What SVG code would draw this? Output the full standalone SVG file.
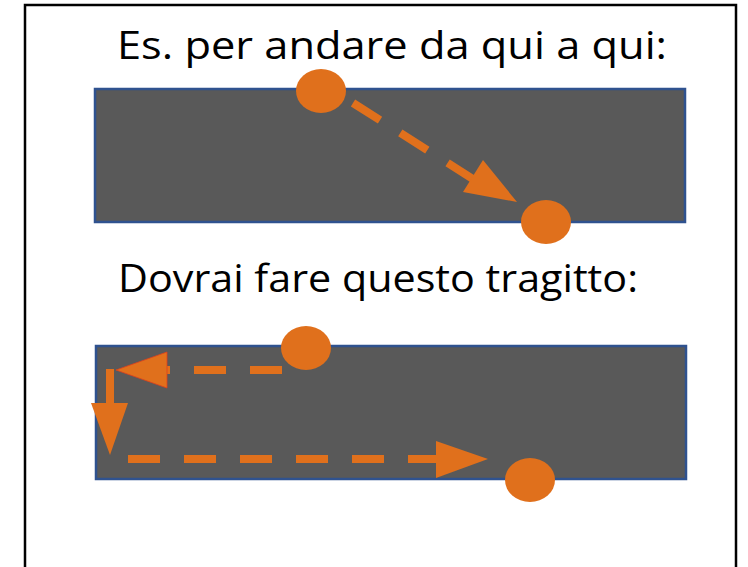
<svg xmlns="http://www.w3.org/2000/svg" width="748" height="567" viewBox="0 0 748 567">
<defs>
<style>
.t{font-family:"Open Sans","Liberation Sans",sans-serif;font-size:38px;fill:#000}
.road{fill:#595959;stroke:#2F528F;stroke-width:2.5}
.dot{fill:#E0701C}
.dash{fill:none;stroke:#E0701C;stroke-width:8;stroke-dasharray:32 24}
.solid{fill:none;stroke:#E0701C;stroke-width:8}
.head{fill:#E0701C}
</style>
</defs>
<rect width="748" height="567" fill="#fff"/>
<rect x="25" y="5" width="711" height="570" fill="none" stroke="#000" stroke-width="2.5"/>
<g id="title1"><text class="t" x="117" y="59" textLength="550" lengthAdjust="spacingAndGlyphs">Es. per andare da qui a qui:</text></g>
<g id="title2"><text class="t" x="118" y="292" textLength="520" lengthAdjust="spacingAndGlyphs">Dovrai fare questo tragitto:</text></g>
<g id="road1"><rect class="road" x="95" y="89" width="590" height="133"/></g>
<g id="road2"><rect class="road" x="96" y="346" width="590" height="133"/></g>
<g id="connectors">
<path class="dash" d="M353,103 L476,181"/>
<polygon class="head" points="517,202 463,192 483,160"/>
<path class="dash" d="M282,370 L160,370"/>
<polygon class="head" points="116,370 167,352 167,388" stroke="#E0401C" stroke-width="0.8"/>
<path class="solid" d="M110,369 L110,403"/>
<polygon class="head" points="91,403 128,403 110,455"/>
<path class="dash" d="M128,459 L440,459"/>
<polygon class="head" points="436,441 436,478 488,459"/>
</g>
<g id="start1"><ellipse class="dot" cx="321" cy="91" rx="25" ry="22"/></g>
<g id="end1"><ellipse class="dot" cx="546" cy="222" rx="25" ry="22"/></g>
<g id="start2"><ellipse class="dot" cx="306" cy="348" rx="25" ry="22"/></g>
<g id="end2"><ellipse class="dot" cx="530" cy="480" rx="25" ry="22"/></g>
</svg>
